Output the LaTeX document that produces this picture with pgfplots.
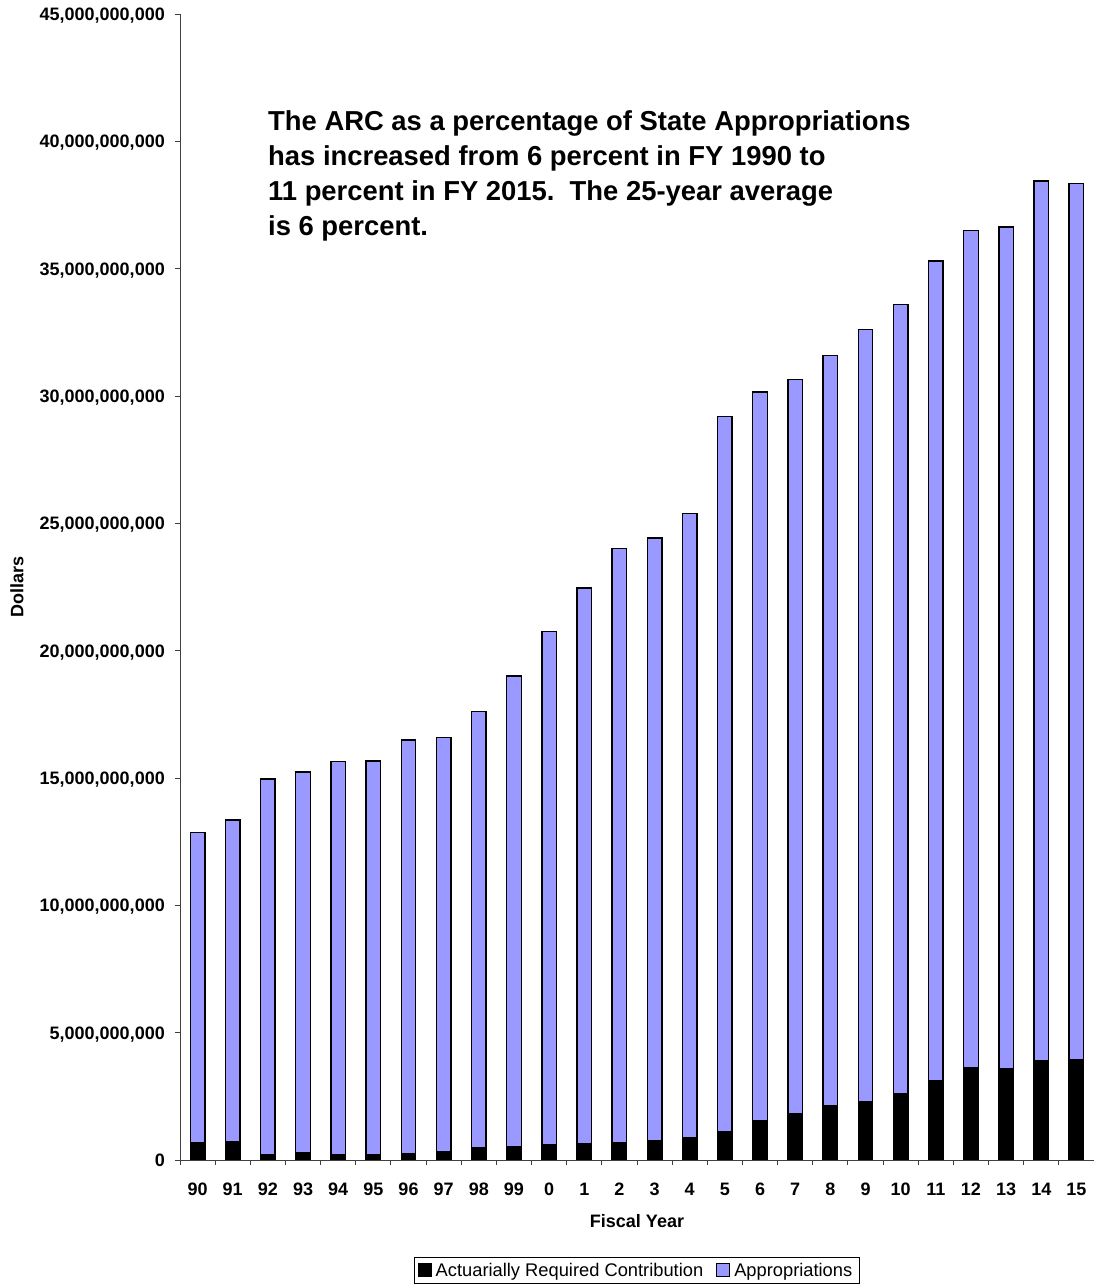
\documentclass[border=0pt]{standalone}
\usepackage{pgfplots}
\pgfplotsset{compat=1.18}
\usepackage{fontspec}
\setmainfont{Liberation Sans}
\definecolor{approp}{HTML}{9999FF}
\definecolor{axisgray}{HTML}{404040}
\begin{document}
\begin{tikzpicture}
\useasboundingbox (0,0) rectangle (1094bp,1285bp);
\begin{axis}[
  at={(180bp,125bp)}, anchor=south west,
  scale only axis, width=914bp, height=1146bp,
  ybar stacked, bar width=14.5bp,
  xmin=-0.5, xmax=25.5, ymin=0, ymax=45000000000,
  axis x line*=bottom, axis y line*=left,
  axis line style={axisgray, line width=1bp},
  tick align=outside, major tick length=5bp,
  tick style={axisgray, line width=1bp},
  xtick={-0.5,0.5,...,25.5}, xticklabels={},
  extra x ticks={0,1,...,25},
  extra x tick labels={90,91,92,93,94,95,96,97,98,99,0,1,2,3,4,5,6,7,8,9,10,11,12,13,14,15},
  extra x tick style={major tick length=0pt},
  ytick={0,5000000000,10000000000,15000000000,20000000000,25000000000,30000000000,35000000000,40000000000,45000000000},
  yticklabels={0,{5,000,000,000},{10,000,000,000},{15,000,000,000},{20,000,000,000},{25,000,000,000},{30,000,000,000},{35,000,000,000},{40,000,000,000},{45,000,000,000}},
  ticklabel style={font=\fontsize{18bp}{21bp}\selectfont\bfseries, inner sep=0pt,
    text height=13bp, text depth=0pt},
  yticklabel style={anchor=east, xshift=-10bp},
  xticklabel style={anchor=north, yshift=-22bp},
  xlabel={Fiscal Year}, ylabel={Dollars},
  every axis x label/.style={at={(rel axis cs:0.5,0)}, anchor=center, yshift=-61bp,
    font=\fontsize{18bp}{21bp}\selectfont\bfseries, inner sep=0pt},
  every axis y label/.style={at={(rel axis cs:0,0.5)}, anchor=center, xshift=-163bp, rotate=90,
    font=\fontsize{18bp}{21bp}\selectfont\bfseries, inner sep=0pt},
  legend columns=2,
  legend style={at={(0.5,-0.0846)}, anchor=north, draw=black, line width=1bp, fill=white,
    font=\fontsize{18.3bp}{21bp}\selectfont, inner xsep=3bp, inner ysep=3.5bp,
    nodes={inner xsep=4bp},
    /tikz/every even column/.append style={column sep=9bp}},
]
\addplot[fill=black, draw=black, line width=1.4bp,
  legend image code/.code={\draw[fill=black,draw=black,line width=1bp] (0bp,-6.5bp) rectangle (13bp,6.5bp);}]
  coordinates {
  (0,690000000) (1,720000000) (2,220000000) (3,300000000) (4,220000000)
  (5,210000000) (6,240000000) (7,310000000) (8,470000000) (9,520000000)
  (10,600000000) (11,640000000) (12,680000000) (13,740000000) (14,860000000)
  (15,1120000000) (16,1530000000) (17,1830000000) (18,2140000000) (19,2290000000)
  (20,2590000000) (21,3110000000) (22,3610000000) (23,3590000000) (24,3910000000)
  (25,3930000000)};
\addlegendentry{Actuarially Required Contribution}
\addplot[fill=approp, draw=black, line width=1.4bp,
  legend image code/.code={\draw[fill=approp,draw=black,line width=1bp] (0bp,-6.5bp) rectangle (13bp,6.5bp);}]
  coordinates {
  (0,12160000000) (1,12630000000) (2,14740000000) (3,14930000000) (4,15430000000)
  (5,15450000000) (6,16250000000) (7,16290000000) (8,17150000000) (9,18480000000)
  (10,20160000000) (11,21820000000) (12,23340000000) (13,23690000000) (14,24530000000)
  (15,28080000000) (16,28620000000) (17,28830000000) (18,29440000000) (19,30320000000)
  (20,31010000000) (21,32190000000) (22,32900000000) (23,33040000000) (24,34540000000)
  (25,34420000000)};
\addlegendentry{Appropriations}
\end{axis}
\node[anchor=north west, align=left, inner sep=0pt,
  font=\fontsize{27.4bp}{35bp}\selectfont\bfseries] at (268bp,1175bp)
  {The ARC as a percentage of State Appropriations\\
   has increased from 6 percent in FY 1990 to\\
   11 percent in FY 2015.\ \ The 25-year average\\
   is 6 percent.};
\end{tikzpicture}
\end{document}
